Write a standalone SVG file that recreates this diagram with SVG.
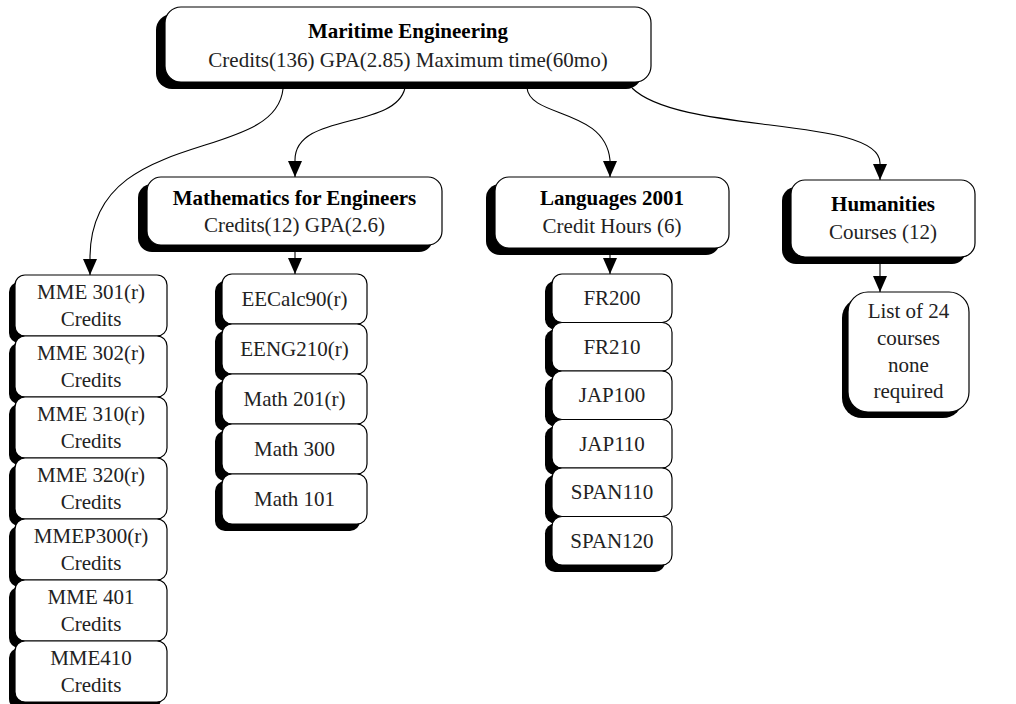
<svg xmlns="http://www.w3.org/2000/svg" width="1016" height="704" viewBox="0 0 1016 704">
<style>
.box{fill:#fff;stroke:#000;stroke-width:1.2}
.sh{fill:#000}
.t{font-family:"Liberation Serif","DejaVu Serif","Times New Roman",serif;font-size:21px;fill:#222;text-anchor:middle}
.b{font-weight:bold;fill:#000}
.c{fill:none;stroke:#000;stroke-width:1.1}
</style>
<defs>
<marker id="ah" markerWidth="16" markerHeight="14" refX="16" refY="7" orient="auto" markerUnits="userSpaceOnUse">
<path d="M0,0 L16,7 L0,14 Z" fill="#000"/>
</marker>
</defs>
<rect width="1016" height="704" fill="#fff"/>

<g id="connectors">
<path class="c" d="M283,89 C275,165 90,125 90,258 L90,275" marker-end="url(#ah)"/>
<path class="c" d="M405,88 C395,130 295,112 295,160 L295,177" marker-end="url(#ah)"/>
<path class="c" d="M527,88 C530,118 605,108 610,160 L610,177" marker-end="url(#ah)"/>
<path class="c" d="M632,88 C680,135 880,116 880,163 L880,180" marker-end="url(#ah)"/>
<path class="c" d="M295,252 L295,274" marker-end="url(#ah)"/>
<path class="c" d="M610,255 L610,274" marker-end="url(#ah)"/>
<path class="c" d="M880,264 L880,292" marker-end="url(#ah)"/>
</g>

<g id="maritime">
<rect class="sh" x="156" y="14" width="486" height="75" rx="16"/>
<rect class="box" x="165" y="7" width="486" height="75" rx="16"/>
<text class="t b" x="408" y="38">Maritime Engineering</text>
<text class="t" x="408" y="67">Credits(136) GPA(2.85) Maximum time(60mo)</text>
</g>

<g id="math">
<rect class="sh" x="138" y="184" width="295" height="68" rx="14"/>
<rect class="box" x="147" y="177" width="295" height="68" rx="14"/>
<text class="t b" x="294.5" y="205">Mathematics for Engineers</text>
<text class="t" x="294.5" y="232">Credits(12) GPA(2.6)</text>
</g>

<g id="languages">
<rect class="sh" x="486" y="184" width="234" height="71" rx="14"/>
<rect class="box" x="495" y="177" width="234" height="71" rx="14"/>
<text class="t b" x="612" y="205">Languages 2001</text>
<text class="t" x="612" y="233">Credit Hours (6)</text>
</g>

<g id="humanities">
<rect class="sh" x="782" y="187" width="184" height="77" rx="14"/>
<rect class="box" x="791" y="180" width="184" height="77" rx="14"/>
<text class="t b" x="883" y="211">Humanities</text>
<text class="t" x="883" y="239">Courses (12)</text>
</g>

<g id="mme301"><rect class="sh" x="9" y="282" width="152" height="61" rx="10"/><rect class="box" x="15" y="275" width="152" height="61" rx="10"/><text class="t" x="91" y="299">MME 301(r)</text><text class="t" x="91" y="326">Credits</text></g>
<g id="mme302"><rect class="sh" x="9" y="343" width="152" height="61" rx="10"/><rect class="box" x="15" y="336" width="152" height="61" rx="10"/><text class="t" x="91" y="360">MME 302(r)</text><text class="t" x="91" y="387">Credits</text></g>
<g id="mme310"><rect class="sh" x="9" y="404" width="152" height="61" rx="10"/><rect class="box" x="15" y="397" width="152" height="61" rx="10"/><text class="t" x="91" y="421">MME 310(r)</text><text class="t" x="91" y="448">Credits</text></g>
<g id="mme320"><rect class="sh" x="9" y="465" width="152" height="61" rx="10"/><rect class="box" x="15" y="458" width="152" height="61" rx="10"/><text class="t" x="91" y="482">MME 320(r)</text><text class="t" x="91" y="509">Credits</text></g>
<g id="mmep300"><rect class="sh" x="9" y="526" width="152" height="61" rx="10"/><rect class="box" x="15" y="519" width="152" height="61" rx="10"/><text class="t" x="91" y="543">MMEP300(r)</text><text class="t" x="91" y="570">Credits</text></g>
<g id="mme401"><rect class="sh" x="9" y="587" width="152" height="61" rx="10"/><rect class="box" x="15" y="580" width="152" height="61" rx="10"/><text class="t" x="91" y="604">MME 401</text><text class="t" x="91" y="631">Credits</text></g>
<g id="mme410"><rect class="sh" x="9" y="648" width="152" height="61" rx="10"/><rect class="box" x="15" y="641" width="152" height="61" rx="10"/><text class="t" x="91" y="665">MME410</text><text class="t" x="91" y="692">Credits</text></g>

<g id="eecalc90"><rect class="sh" x="215" y="281" width="145" height="50" rx="10"/><rect class="box" x="222" y="274" width="145" height="50" rx="10"/><text class="t" x="294.5" y="306">EECalc90(r)</text></g>
<g id="eeng210"><rect class="sh" x="215" y="331" width="145" height="50" rx="10"/><rect class="box" x="222" y="324" width="145" height="50" rx="10"/><text class="t" x="294.5" y="356">EENG210(r)</text></g>
<g id="math201"><rect class="sh" x="215" y="381" width="145" height="50" rx="10"/><rect class="box" x="222" y="374" width="145" height="50" rx="10"/><text class="t" x="294.5" y="406">Math 201(r)</text></g>
<g id="math300"><rect class="sh" x="215" y="431" width="145" height="50" rx="10"/><rect class="box" x="222" y="424" width="145" height="50" rx="10"/><text class="t" x="294.5" y="456">Math 300</text></g>
<g id="math101"><rect class="sh" x="215" y="481" width="145" height="50" rx="10"/><rect class="box" x="222" y="474" width="145" height="50" rx="10"/><text class="t" x="294.5" y="506">Math 101</text></g>

<g id="fr200"><rect class="sh" x="545" y="281" width="120" height="48.5" rx="10"/><rect class="box" x="552" y="274" width="120" height="48.5" rx="10"/><text class="t" x="612" y="305">FR200</text></g>
<g id="fr210"><rect class="sh" x="545" y="329.5" width="120" height="48.5" rx="10"/><rect class="box" x="552" y="322.5" width="120" height="48.5" rx="10"/><text class="t" x="612" y="353.5">FR210</text></g>
<g id="jap100"><rect class="sh" x="545" y="378" width="120" height="48.5" rx="10"/><rect class="box" x="552" y="371" width="120" height="48.5" rx="10"/><text class="t" x="612" y="402">JAP100</text></g>
<g id="jap110"><rect class="sh" x="545" y="426.5" width="120" height="48.5" rx="10"/><rect class="box" x="552" y="419.5" width="120" height="48.5" rx="10"/><text class="t" x="612" y="450.5">JAP110</text></g>
<g id="span110"><rect class="sh" x="545" y="475" width="120" height="48.5" rx="10"/><rect class="box" x="552" y="468" width="120" height="48.5" rx="10"/><text class="t" x="612" y="499">SPAN110</text></g>
<g id="span120"><rect class="sh" x="545" y="523.5" width="120" height="48.5" rx="10"/><rect class="box" x="552" y="516.5" width="120" height="48.5" rx="10"/><text class="t" x="612" y="547.5">SPAN120</text></g>

<g id="list24">
<rect class="sh" x="842" y="298" width="121" height="120" rx="20"/>
<rect class="box" x="848" y="292" width="121" height="120" rx="20"/>
<text class="t" x="908.5" y="318">List of 24</text>
<text class="t" x="908.5" y="345">courses</text>
<text class="t" x="908.5" y="372">none</text>
<text class="t" x="908.5" y="398">required</text>
</g>
</svg>
